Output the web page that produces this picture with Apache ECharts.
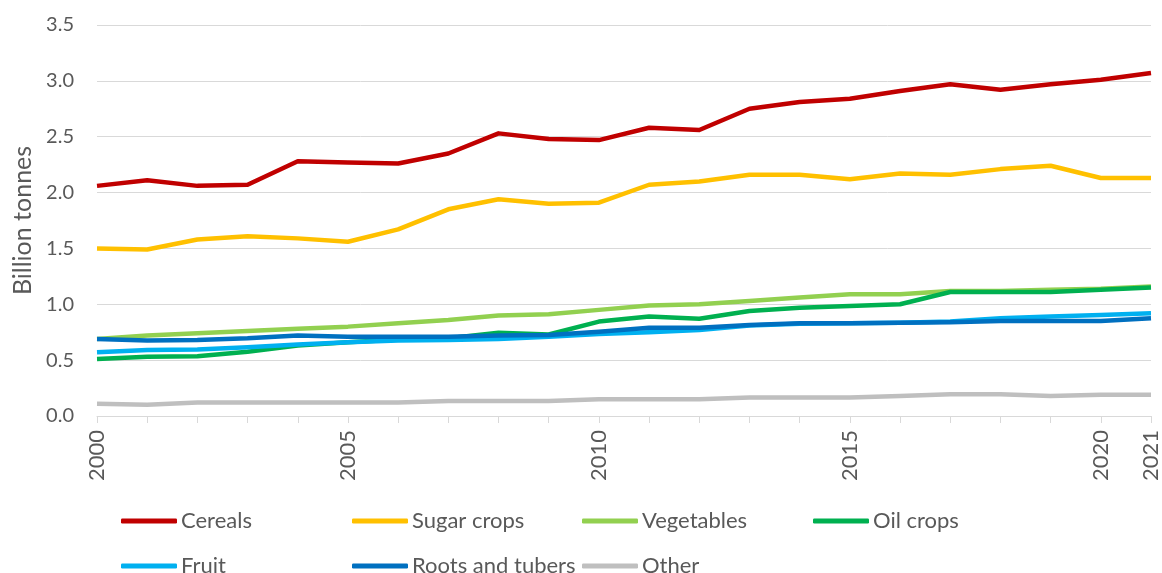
<!DOCTYPE html>
<html>
<head>
<meta charset="utf-8">
<script src="https://cdn.jsdelivr.net/npm/echarts@6/dist/echarts.min.js"></script>
<style>
html,body{margin:0;padding:0;background:#fff;}
#chart{width:1162px;height:573px;}
</style>
</head>
<body>
<div id="chart"></div>
<script>
const years = ['2000','2001','2002','2003','2004','2005','2006','2007','2008','2009','2010','2011','2012','2013','2014','2015','2016','2017','2018','2019','2020','2021'];
const cereals    = [2.06,2.11,2.06,2.07,2.28,2.27,2.26,2.35,2.53,2.48,2.47,2.58,2.56,2.75,2.81,2.84,2.91,2.97,2.92,2.97,3.01,3.07];
const sugarCrops = [1.50,1.49,1.58,1.61,1.59,1.56,1.67,1.85,1.94,1.90,1.91,2.07,2.10,2.16,2.16,2.12,2.17,2.16,2.21,2.24,2.13,2.13];
const vegetables = [0.69,0.72,0.74,0.76,0.78,0.80,0.83,0.86,0.90,0.91,0.95,0.99,1.00,1.03,1.06,1.09,1.09,1.12,1.12,1.13,1.14,1.16];
const oilCrops   = [0.51,0.53,0.535,0.575,0.63,0.66,0.685,0.695,0.745,0.73,0.845,0.89,0.87,0.94,0.97,0.985,1.00,1.11,1.11,1.11,1.13,1.15];
const fruit      = [0.57,0.59,0.595,0.615,0.64,0.66,0.675,0.68,0.69,0.71,0.735,0.75,0.77,0.81,0.825,0.83,0.835,0.845,0.875,0.89,0.905,0.92];
const roots      = [0.69,0.675,0.68,0.695,0.72,0.71,0.71,0.71,0.72,0.725,0.755,0.79,0.79,0.815,0.83,0.83,0.835,0.84,0.85,0.85,0.85,0.875];
const other      = [0.11,0.10,0.12,0.12,0.12,0.12,0.12,0.135,0.135,0.135,0.15,0.15,0.15,0.165,0.165,0.165,0.18,0.195,0.195,0.18,0.19,0.19];
const yTicks = [0,0.5,1,1.5,2,2.5,3,3.5];

const names  = ['Cereals','Sugar crops','Vegetables','Oil crops','Fruit','Roots and tubers','Other'];
const values = [cereals,sugarCrops,vegetables,oilCrops,fruit,roots,other];
const colors = ['#C00000','#FFC000','#92D050','#00B050','#00B0F0','#0070C0','#BFBFBF'];
const legendPos = [[121,510],[352,510],[582,510],[813,510],[121,555],[352,555],[582,555]];

const FONT = 'Lato';
const TXT = '#595959';

const chart = echarts.init(document.getElementById('chart'), null, {renderer:'canvas'});
chart.setOption({
  animation:false,
  backgroundColor:'#ffffff',
  textStyle:{fontFamily:FONT},
  grid:{left:97,right:10,top:25,bottom:157,containLabel:false},
  legend: names.map((n,i)=>({
    data:[n], left:legendPos[i][0], top:legendPos[i][1],
    icon:'roundRect', itemWidth:56, itemHeight:5, itemGap:0,
    textStyle:{color:TXT,fontSize:22,fontFamily:FONT,padding:[0,0,0,-1]},
    padding:0
  })),
  xAxis:{
    type:'category', data:years, boundaryGap:false,
    axisLine:{lineStyle:{color:'#D9D9D9',width:1}},
    axisTick:{show:true,interval:0,length:7,lineStyle:{color:'#D9D9D9'}},
    axisLabel:{
      rotate:90, color:TXT, fontSize:22, fontFamily:FONT, margin:14,
      interval:function(idx){return idx%5===0 || idx===years.length-1;}
    },
    splitLine:{show:false}
  },
  yAxis:{
    type:'value', min:yTicks[0], max:yTicks[yTicks.length-1], interval:0.5,
    name:'Billion tonnes', nameLocation:'middle', nameRotate:90, nameGap:62,
    nameTextStyle:{color:TXT,fontSize:25,fontFamily:FONT},
    axisLine:{show:false}, axisTick:{show:false},
    axisLabel:{color:TXT,fontSize:20,fontFamily:FONT,margin:23,formatter:v=>v.toFixed(1)},
    splitLine:{lineStyle:{color:'#D9D9D9',width:1}}
  },
  series: names.map((n,i)=>({
    name:n, type:'line', data:values[i], showSymbol:false, symbol:'none',
    lineStyle:{color:colors[i],width:4.5,join:'round'},
    itemStyle:{color:colors[i]},
    z:2+i
  }))
});
</script>
</body>
</html>
